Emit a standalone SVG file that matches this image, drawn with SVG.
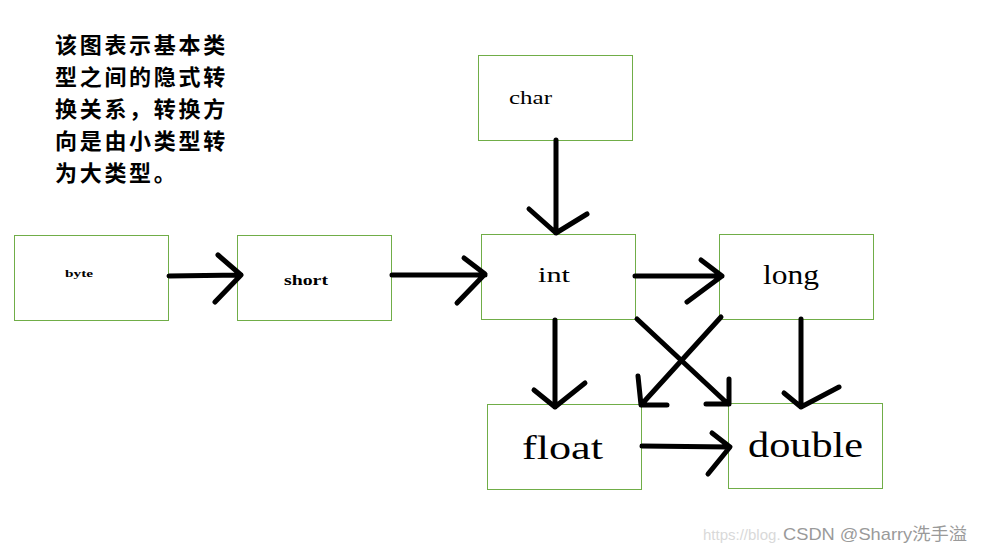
<svg xmlns="http://www.w3.org/2000/svg" width="983" height="552" viewBox="0 0 983 552">
<style>
.box{fill:#fff;stroke:#70AD47;stroke-width:1}
.lbl{font-family:"Liberation Serif","DejaVu Serif",serif;fill:#000}
.arr{fill:none;stroke:#000;stroke-width:5;stroke-linecap:round;stroke-linejoin:round}
.note{font-family:"Noto Sans CJK SC","Noto Sans CJK JP",sans-serif;font-size:22px;font-weight:bold;fill:#000;letter-spacing:2.7px}
.wm{font-family:"Liberation Sans","Noto Sans CJK SC",sans-serif}
</style>
<rect width="983" height="552" fill="#fff"/>
<g id="note">
<text class="note" x="55" y="53">该图表示基本类</text>
<text class="note" x="55" y="85">型之间的隐式转</text>
<text class="note" x="55" y="117">换关系，转换方</text>
<text class="note" x="55" y="149">向是由小类型转</text>
<text class="note" x="55" y="181">为大类型。</text>
</g>
<g id="byte"><rect class="box" x="14.5" y="235.5" width="154" height="85"/><text class="lbl" x="65" y="277" font-size="11" font-weight="bold" textLength="28" lengthAdjust="spacingAndGlyphs">byte</text></g>
<g id="short"><rect class="box" x="237.5" y="235.5" width="154" height="85"/><text class="lbl" x="284" y="285" font-size="15" font-weight="bold" textLength="44" lengthAdjust="spacingAndGlyphs">short</text></g>
<g id="char"><rect class="box" x="478.5" y="55.5" width="154" height="85"/><text class="lbl" x="509" y="104" font-size="18" textLength="43" lengthAdjust="spacingAndGlyphs">char</text></g>
<g id="int"><rect class="box" x="481.5" y="234.5" width="154" height="85"/><text class="lbl" x="538" y="282" font-size="20" textLength="32" lengthAdjust="spacingAndGlyphs">int</text></g>
<g id="long"><rect class="box" x="719.5" y="234.5" width="154" height="85"/><text class="lbl" x="763" y="284" font-size="27" textLength="56" lengthAdjust="spacingAndGlyphs">long</text></g>
<g id="float"><rect class="box" x="487.5" y="404.5" width="154" height="85"/><text class="lbl" x="522" y="459" font-size="33" textLength="81" lengthAdjust="spacingAndGlyphs">float</text></g>
<g id="double"><rect class="box" x="728.5" y="403.5" width="154" height="85"/><text class="lbl" x="748" y="457" font-size="35" textLength="115" lengthAdjust="spacingAndGlyphs">double</text></g>
<g id="connectors">
<path class="arr" d="M169 276 L241 275 M218 255 L241 275 L215 302"/>
<path class="arr" d="M392 275 L485 275 M464 258 L485 274 L457 303"/>
<path class="arr" d="M556 140 L556 233 M529 209 L556 233 L587 214"/>
<path class="arr" d="M635 276 L722 276 M701 260 L722 276 L687 302"/>
<path class="arr" d="M555 320 L555 407 M534 390 L555 407 L585 383"/>
<path class="arr" d="M801 319 L801 407 M784 393 L801 407 L839 387"/>
<path class="arr" d="M637 319 L728 404 M729 379 L729 404 L706 404"/>
<path class="arr" d="M721 317 L641 405 M638 376 L641 405 L667 405"/>
<path class="arr" d="M642 446 L730 447 M712 433 L730 447 L708 474"/>
</g>
<g id="watermark">
<text class="wm" x="703" y="540" font-size="15" fill="#d9d9d9">https://blog.</text>
<text class="wm" x="962" y="540" font-size="15" fill="#d9d9d9">/</text>
<text class="wm" x="783" y="540" font-size="17" fill="#9a9a9a" textLength="184" lengthAdjust="spacingAndGlyphs">CSDN @Sharry洗手溢</text>
</g>
</svg>
